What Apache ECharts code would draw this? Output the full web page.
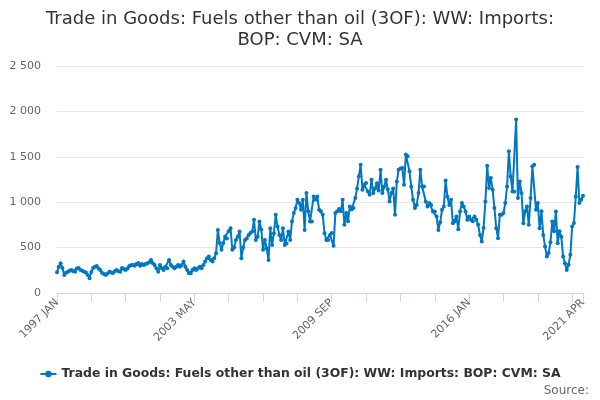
<!DOCTYPE html>
<html>
<head>
<meta charset="utf-8">
<script src="https://cdn.jsdelivr.net/npm/echarts@6/dist/echarts.min.js"></script>
<style>
  html, body { margin: 0; padding: 0; background: #fff; }
  #app { width: 600px; height: 400px; }
</style>
</head>
<body>
<div id="app"></div>
<script>
// monthly values, one array per year
var years = [1997, 1998, 1999, 2000, 2001, 2002, 2003, 2004, 2005, 2006, 2007, 2008,
             2009, 2010, 2011, 2012, 2013, 2014, 2015, 2016, 2017, 2018, 2019, 2020, 2021];
var months = ['JAN', 'FEB', 'MAR', 'APR', 'MAY', 'JUN', 'JUL', 'AUG', 'SEP', 'OCT', 'NOV', 'DEC'];

var v1997 = [228, 290, 328, 276, 199, 224, 235, 245, 254, 240, 235, 270];
var v1998 = [276, 254, 245, 235, 225, 199, 162, 230, 276, 290, 298, 270];
var v1999 = [254, 220, 210, 199, 215, 235, 225, 220, 240, 254, 240, 235];
var v2000 = [276, 265, 254, 270, 298, 305, 310, 300, 320, 330, 300, 320];
var v2001 = [309, 320, 328, 340, 364, 328, 309, 272, 235, 309, 272, 254];
var v2002 = [290, 272, 364, 309, 290, 272, 290, 309, 290, 309, 346, 290];
var v2003 = [254, 217, 217, 254, 272, 254, 272, 290, 272, 309, 346, 383];
var v2004 = [401, 364, 346, 383, 438, 695, 552, 475, 552, 622, 600, 680];
var v2005 = [714, 475, 500, 585, 620, 677, 383, 500, 585, 600, 640, 660];
var v2006 = [677, 806, 585, 620, 787, 700, 475, 585, 493, 364, 714, 530];
var v2007 = [659, 861, 732, 640, 585, 714, 530, 545, 677, 585, 787, 880];
var v2008 = [935, 1027, 990, 916, 1027, 695, 1100, 900, 787, 787, 1063, 1027];
var v2009 = [1063, 916, 900, 861, 659, 585, 585, 640, 660, 519, 880, 900];
var v2010 = [924, 900, 1027, 751, 880, 790, 953, 920, 935, 1045, 1150, 1284];
var v2011 = [1413, 1137, 1190, 1211, 1118, 1082, 1248, 1100, 1150, 1210, 1130, 1358];
var v2012 = [1100, 1170, 1248, 1140, 1008, 1100, 1150, 861, 1229, 1358, 1370, 1377];
var v2013 = [1192, 1524, 1505, 1340, 1170, 1027, 935, 970, 1100, 1358, 1174, 1174];
var v2014 = [1008, 953, 990, 970, 898, 898, 842, 695, 780, 916, 953, 1240];
var v2015 = [1060, 970, 1027, 769, 790, 842, 703, 898, 990, 953, 898, 806];
var v2016 = [842, 806, 790, 842, 806, 751, 640, 566, 716, 1008, 1402, 1156];
var v2017 = [1266, 1137, 935, 714, 604, 861, 861, 880, 990, 1174, 1560, 1284];
var v2018 = [1118, 1118, 1910, 1045, 1229, 1100, 769, 900, 953, 751, 1045, 1395];
var v2019 = [1413, 916, 990, 714, 900, 640, 511, 401, 440, 560, 787, 680];
var v2020 = [898, 549, 680, 620, 401, 328, 254, 310, 420, 732, 770, 1063];
var v2021 = [1387, 990, 1030, 1071];

var yearValues = [v1997, v1998, v1999, v2000, v2001, v2002, v2003, v2004, v2005, v2006,
                  v2007, v2008, v2009, v2010, v2011, v2012, v2013, v2014, v2015, v2016,
                  v2017, v2018, v2019, v2020, v2021];

var titleLines = ['Trade in Goods: Fuels other than oil (3OF): WW: Imports:', 'BOP: CVM: SA'];
var seriesName = 'Trade in Goods: Fuels other than oil (3OF): WW: Imports: BOP: CVM: SA';

var categories = [];
var values = [];
yearValues.forEach(function (arr, k) {
    arr.forEach(function (v, m) {
        categories.push(years[k] + ' ' + months[m]);
        values.push(v);
    });
});
var last = categories.length - 1;

var font = 'DejaVu Sans';
var titleStyle = { fontFamily: font, fontSize: 18, fontWeight: 'normal', color: '#333333' };
var chart = echarts.init(document.getElementById('app'));

chart.setOption({
    animation: false,
    textStyle: { fontFamily: font },
    title: [
        { text: titleLines[0], left: 'center', top: 5, textStyle: titleStyle },
        { text: titleLines[1], left: 'center', top: 26, textStyle: titleStyle }
    ],
    legend: {
        bottom: 15,
        left: 'center',
        itemWidth: 16,
        itemHeight: 8,
        itemGap: 5,
        textStyle: { fontFamily: font, fontSize: 12.4, fontWeight: 'bold', color: '#333333' },
        data: [seriesName]
    },
    graphic: [{
        type: 'text',
        right: 11,
        bottom: 3,
        style: { text: 'Source:', fontFamily: font, fontSize: 12, fill: '#666666' }
    }],
    grid: { left: 57, right: 17, top: 66, bottom: 107 },
    xAxis: {
        type: 'category',
        data: categories,
        boundaryGap: false,
        axisLine: { lineStyle: { color: '#ccd6eb' } },
        axisTick: {
            length: 9,
            lineStyle: { color: '#ccd6eb' },
            interval: function (i) { return i % 19 === 0 || i === last; }
        },
        axisLabel: {
            rotate: 45,
            fontSize: 11,
            color: '#666666',
            margin: 8,
            interval: function (i) { return i % 76 === 0 || i === last; }
        }
    },
    yAxis: {
        type: 'value',
        min: 0,
        max: 2500,
        interval: 500,
        axisLine: { show: false },
        axisTick: { show: false },
        splitLine: { lineStyle: { color: '#e6e6e6' } },
        axisLabel: {
            fontSize: 11,
            color: '#666666',
            margin: 16,
            formatter: function (v) { return String(v).replace(/\B(?=(\d{3})+(?!\d))/g, ' '); }
        }
    },
    series: [{
        name: seriesName,
        type: 'line',
        data: values,
        symbol: 'circle',
        symbolSize: 4,
        showAllSymbol: true,
        lineStyle: { width: 2, color: '#0077c0' },
        itemStyle: { color: '#0077c0' }
    }]
});
</script>
</body>
</html>
